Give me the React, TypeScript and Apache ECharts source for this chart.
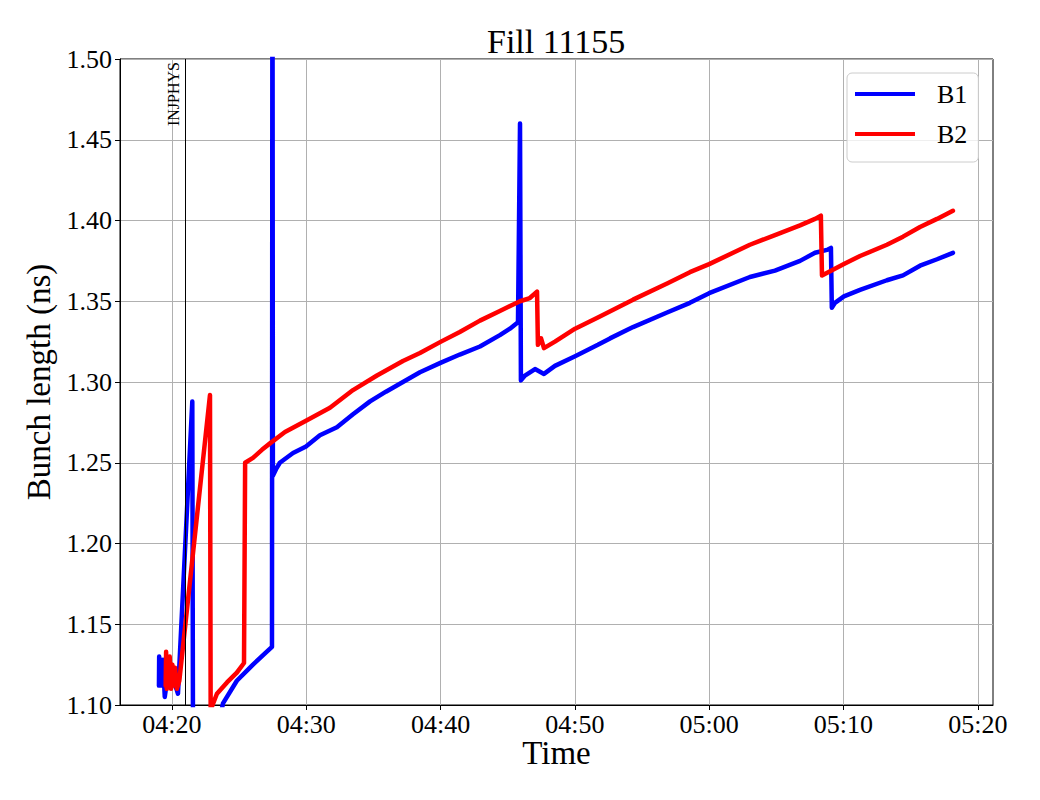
import React, { useEffect, useRef } from "react";
import * as echarts from "echarts";

// ---- Data ----
const b1Times = [
  "04:19:02", "04:19:03", "04:19:06", "04:19:10", "04:19:14", "04:19:20", "04:19:28", "04:19:36",
  "04:19:50", "04:20:05", "04:20:20", "04:20:27", "04:21:31", "04:21:36", "04:23:44", "04:23:48",
  "04:24:50", "04:26:02", "04:27:04", "04:27:27", "04:27:29", "04:27:31", "04:27:45", "04:28:02",
  "04:29:01", "04:29:59", "04:31:01", "04:32:17", "04:33:29", "04:34:45", "04:35:56", "04:37:12",
  "04:38:28", "04:40:02", "04:41:26", "04:42:56", "04:44:25", "04:45:10", "04:45:46", "04:45:55",
  "04:45:59", "04:46:17", "04:47:02", "04:47:42", "04:48:31", "04:50:01", "04:51:43", "04:52:37",
  "04:54:20", "04:56:52", "04:58:34", "05:00:00", "05:03:02", "05:04:54", "05:06:46", "05:07:53",
  "05:08:51", "05:09:04", "05:09:08", "05:09:22", "05:10:02", "05:11:14", "05:13:14", "05:14:26",
  "05:15:42", "05:16:58", "05:18:09",
];
const b1Values = [
  1.112, 1.130, 1.112, 1.128, 1.112, 1.128, 1.105, 1.113,
  1.120, 1.115, 1.110, 1.107, 1.288, 0.95, 1.098, 1.101,
  1.115, 1.125, 1.133, 1.136, 1.62, 1.242, 1.246, 1.250,
  1.256, 1.260, 1.267, 1.272, 1.280, 1.288, 1.294, 1.300,
  1.306, 1.312, 1.317, 1.322, 1.329, 1.333, 1.337, 1.460,
  1.301, 1.304, 1.308, 1.305, 1.310, 1.316, 1.323, 1.327,
  1.334, 1.343, 1.349, 1.355, 1.365, 1.369, 1.375, 1.380,
  1.382, 1.383, 1.346, 1.349, 1.353, 1.357, 1.363, 1.366,
  1.372, 1.376, 1.380,
];

const b2Times = [
  "04:19:32", "04:19:34", "04:19:37", "04:19:40", "04:19:45", "04:19:50", "04:19:56", "04:20:02",
  "04:20:08", "04:20:14", "04:20:22", "04:20:33", "04:22:50", "04:22:53", "04:23:21", "04:24:06",
  "04:24:50", "04:25:22", "04:25:27", "04:26:02", "04:26:42", "04:27:18", "04:28:25", "04:29:59",
  "04:31:46", "04:33:29", "04:35:16", "04:37:12", "04:38:28", "04:40:02", "04:41:26", "04:42:56",
  "04:44:25", "04:45:55", "04:46:39", "04:47:11", "04:47:15", "04:47:29", "04:47:42", "04:48:31",
  "04:50:01", "04:51:43", "04:54:20", "04:56:52", "04:58:34", "05:00:00", "05:03:02", "05:04:54",
  "05:06:46", "05:07:53", "05:08:19", "05:08:24", "05:10:02", "05:11:14", "05:13:14", "05:14:26",
  "05:15:42", "05:16:58", "05:18:09",
];
const b2Values = [
  1.112, 1.133, 1.110, 1.128, 1.111, 1.130, 1.110, 1.125,
  1.112, 1.123, 1.110, 1.115, 1.292, 1.097, 1.107, 1.114,
  1.120, 1.126, 1.250, 1.253, 1.258, 1.262, 1.269, 1.276,
  1.284, 1.295, 1.304, 1.313, 1.318, 1.325, 1.331, 1.338,
  1.344, 1.350, 1.352, 1.356, 1.323, 1.327, 1.321, 1.325,
  1.333, 1.340, 1.351, 1.361, 1.368, 1.373, 1.385, 1.391,
  1.397, 1.401, 1.403, 1.366, 1.373, 1.378, 1.385, 1.390,
  1.396, 1.401, 1.406,
];

const xStart = "04:16:08";
const xEnd = "05:21:08";
const xTickLabels = ["04:20", "04:30", "04:40", "04:50", "05:00", "05:10", "05:20"];
const yMin = 1.1;
const yMax = 1.5;
const yStep = 0.05;
const injphysTime = "04:20:58";
const injphysLabel = "INJPHYS";

// minutes since 04:00
function toMinutes(s: string): number {
  const p = s.split(":").map(Number);
  return (p[0] - 4) * 60 + p[1] + (p[2] || 0) / 60;
}
function pad(n: number): string {
  return n < 10 ? "0" + n : String(n);
}
function fmtMinutes(m: number): string {
  const t = Math.round(m);
  return pad(4 + Math.floor(t / 60)) + ":" + pad(t % 60);
}

const FONT = "Liberation Serif, Times New Roman, serif";

export default function App() {
  const ref = useRef<HTMLDivElement>(null);

  useEffect(() => {
    if (!ref.current) return;
    const chart = echarts.init(ref.current, undefined, { renderer: "svg" });
    const b1 = b1Times.map((t, i) => [toMinutes(t), b1Values[i]]);
    const b2 = b2Times.map((t, i) => [toMinutes(t), b2Values[i]]);
    const xTicks = xTickLabels.map((s) => toMinutes(s));

    chart.setOption({
      animation: false,
      backgroundColor: "#ffffff",
      title: {
        text: "Fill 11155",
        left: 487,
        top: 24,
        padding: 0,
        textStyle: { fontFamily: FONT, fontSize: 34, fontWeight: "normal", color: "#000" },
      },
      legend: {
        left: 847,
        top: 73,
        orient: "vertical",
        icon: "rect",
        itemWidth: 60,
        itemHeight: 4,
        itemGap: 14,
        padding: [8, 11, 15, 8],
        borderColor: "#cccccc",
        borderWidth: 1,
        borderRadius: 5,
        backgroundColor: "rgba(255,255,255,0.8)",
        textStyle: {
          fontFamily: FONT,
          fontSize: 26,
          lineHeight: 25,
          color: "#000",
          padding: [0, 0, 0, 17],
        },
        data: ["B1", "B2"],
      },
      grid: {
        left: 120,
        right: 47,
        top: 59,
        bottom: 95,
        show: true,
        borderColor: "#000",
        borderWidth: 1,
        containLabel: false,
      },
      xAxis: {
        type: "value",
        min: toMinutes(xStart),
        max: toMinutes(xEnd),
        name: "Time",
        nameLocation: "middle",
        nameGap: 33,
        nameMoveOverlap: false,
        nameTextStyle: { fontFamily: FONT, fontSize: 33, lineHeight: 30, color: "#000" },
        axisLine: { show: true, onZero: false, lineStyle: { color: "#000", width: 1 } },
        axisTick: { show: true, inside: false, length: 5, customValues: xTicks, lineStyle: { color: "#000" } },
        axisLabel: {
          customValues: xTicks,
          margin: 7,
          fontFamily: FONT,
          fontSize: 26,
          lineHeight: 24,
          color: "#000",
          formatter: (v: number) => fmtMinutes(v),
        },
        splitLine: { show: true, lineStyle: { color: "#b0b0b0", width: 1 } },
      },
      yAxis: {
        type: "value",
        min: yMin,
        max: yMax,
        interval: yStep,
        name: "Bunch length (ns)",
        nameLocation: "middle",
        nameGap: 61,
        nameTextStyle: { fontFamily: FONT, fontSize: 33, color: "#000" },
        axisLine: { show: true, lineStyle: { color: "#000", width: 1 } },
        axisTick: { show: true, inside: false, length: 5, lineStyle: { color: "#000" } },
        axisLabel: {
          margin: 8,
          fontFamily: FONT,
          fontSize: 26,
          color: "#000",
          formatter: (v: number) => v.toFixed(2),
        },
        splitLine: { show: true, lineStyle: { color: "#b0b0b0", width: 1 } },
      },
      series: [
        {
          name: "B1",
          type: "line",
          data: b1,
          symbol: "none",
          showSymbol: false,
          clip: true,
          color: "#0000ff",
          lineStyle: { color: "#0000ff", width: 4.5, join: "round", cap: "round" },
          markLine: {
            silent: true,
            symbol: "none",
            animation: false,
            lineStyle: { color: "#000", width: 1, type: "solid" },
            label: {
              show: true,
              position: "insideEndTop",
              formatter: injphysLabel,
              fontFamily: FONT,
              fontSize: 16,
              color: "#000",
              distance: 3,
            },
            data: [{ xAxis: toMinutes(injphysTime) }],
          },
        },
        {
          name: "B2",
          type: "line",
          data: b2,
          symbol: "none",
          showSymbol: false,
          clip: true,
          color: "#ff0000",
          lineStyle: { color: "#ff0000", width: 4.5, join: "round", cap: "round" },
        },
      ],
    });
    return () => chart.dispose();
  }, []);

  return (
    <div
      ref={ref}
      style={{ position: "fixed", left: 0, top: 0, width: 1040, height: 800, background: "#fff" }}
    />
  );
}
